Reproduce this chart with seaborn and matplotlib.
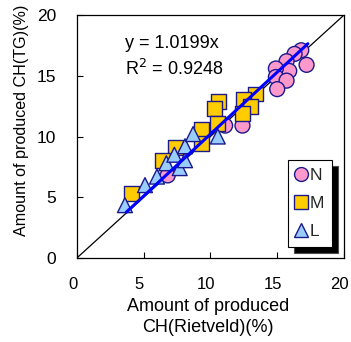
import numpy as np
import pandas as pd
import matplotlib
matplotlib.use("Agg")
import matplotlib.pyplot as plt
import matplotlib.transforms as mtransforms
import seaborn as sns
from matplotlib.lines import Line2D

n_x = [17.2, 16.8, 16.3, 15.7, 15.9, 14.9, 14.9, 15.7, 15.0, 12.4, 11.1, 12.7, 6.8]
n_y = [15.9, 17.1, 16.8, 16.2, 15.4, 15.6, 14.9, 14.6, 13.9, 10.9, 10.9, 13.0, 6.8]
m_x = [13.4, 12.5, 13.0, 12.4, 10.6, 10.3, 10.55, 9.3, 9.3, 7.4, 6.4, 4.1]
m_y = [13.5, 13.05, 12.5, 11.9, 12.9, 12.3, 11.1, 10.6, 9.4, 9.1, 8.0, 5.3]
l_x = [3.6, 5.1, 6.0, 6.7, 7.3, 7.7, 8.1, 8.1, 8.7, 10.55]
l_y = [4.35, 6.0, 6.7, 7.8, 8.5, 7.4, 8.05, 9.2, 10.2, 10.0]
slope = 1.0199
fit_range = [3.7, 17.3]
ticks = [0, 5, 10, 15, 20]

df = pd.DataFrame({
    "x": n_x + m_x + l_x,
    "y": n_y + m_y + l_y,
    "g": ["N"] * len(n_x) + ["M"] * len(m_x) + ["L"] * len(l_x),
})

sns.set_theme(style="white")
plt.rcParams["font.family"] = ["Liberation Sans", "DejaVu Sans"]

fig = plt.figure(figsize=(3.51, 3.42), dpi=100)
ax = fig.add_axes([0.219, 0.2456, 0.761, 0.7104])

ax.plot([0, 20], [0, 20], color="black", lw=0.9, zorder=1)

palette = {"N": "#FF99CC", "M": "#FFCC00", "L": "#99CCFF"}
markers = {"N": "o", "M": "s", "L": "^"}
sns.scatterplot(data=df, x="x", y="y", hue="g", style="g", palette=palette,
                markers=markers, s=115, edgecolor="#1a1a8c", linewidth=1.0,
                ax=ax, zorder=3, legend=False)

fx = np.array(fit_range)
ax.plot(fx, slope * fx, color="#0000FF", lw=2.2, zorder=4)

ax.set_xlim(0, 20)
ax.set_ylim(0, 20)
ax.set_xticks(ticks)
ax.set_yticks(ticks)
ax.tick_params(direction="in", length=4, width=0.8, color="black",
               labelcolor="black", bottom=True, left=True)
ax.tick_params(axis="x", labelsize=12, pad=14)
ax.tick_params(axis="y", labelsize=12.5, pad=15)
shift = mtransforms.ScaledTranslation(-3 / 72, 0, fig.dpi_scale_trans)
for lab in ax.get_xticklabels():
    lab.set_transform(lab.get_transform() + shift)
for sp in ax.spines.values():
    sp.set_color("black")
    sp.set_linewidth(0.9)

ax.set_xlabel("Amount of produced\nCH(Rietveld)(%)", fontsize=13,
              color="black", linespacing=1.3)
ax.xaxis.set_label_coords(0.49, -0.241)
ax.xaxis.label.set_verticalalignment("center")
ax.set_ylabel("Amount of produced CH(TG)(%)", fontsize=11.6, color="black")
ax.yaxis.set_label_coords(-0.206, 0.568)
ax.yaxis.label.set_verticalalignment("center")

ax.text(3.6, 17.3, "y = 1.0199x", fontsize=13, color="black")
ax.text(3.6, 15.1, "R$^2$ = 0.9248", fontsize=13, color="black")

handles = [Line2D([], [], marker=markers[k], color="none", markerfacecolor=palette[k],
                  markeredgecolor="#1a1a8c", markersize=10, label=k) for k in ["N", "M", "L"]]
leg = ax.legend(handles=handles, loc="lower right", bbox_to_anchor=(0.955, 0.045),
                frameon=True, fancybox=False, handlelength=0.6, handletextpad=0.2,
                labelspacing=0.75, borderpad=0.45, borderaxespad=0, fontsize=12.5,
                shadow={"ox": 4, "oy": -4, "facecolor": "black", "alpha": 1})
leg.get_frame().set_edgecolor("black")
leg.get_frame().set_linewidth(0.8)

fig.savefig("out.png", dpi=100)
